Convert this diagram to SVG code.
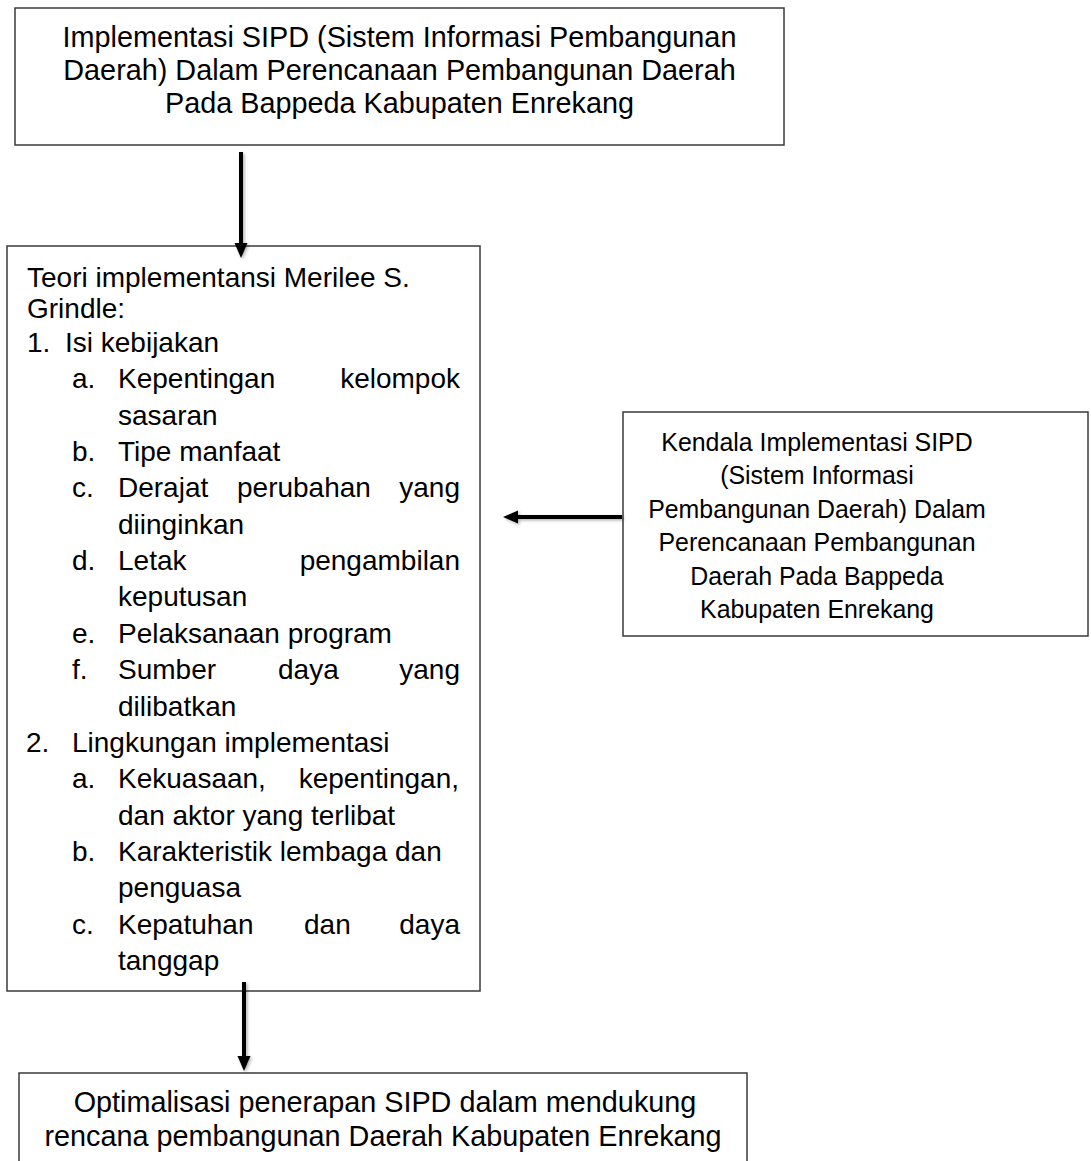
<svg xmlns="http://www.w3.org/2000/svg" width="1091" height="1161" viewBox="0 0 1091 1161">
<style>
.box{fill:#fff;stroke:#3a3a3a;stroke-width:1.5}
.t{font-family:"Liberation Sans",Arial,sans-serif;fill:#000}
.c{text-anchor:middle}
.e{text-anchor:end}
.conn{stroke:#000;stroke-width:4;fill:none;marker-end:url(#ah)}
</style>
<defs>
<marker id="ah" markerUnits="userSpaceOnUse" markerWidth="16" markerHeight="14" viewBox="0 0 16 14" refX="1" refY="7" orient="auto">
<path d="M0,0.5 L15,7 L0,13.5 Z" fill="#000"/>
</marker>
<filter id="sh" filterUnits="userSpaceOnUse" x="0" y="0" width="1091" height="1161">
<feDropShadow dx="1.5" dy="1.5" stdDeviation="1.5" flood-color="#000" flood-opacity="0.3"/>
</filter>
</defs>
<g id="node-top">
<rect class="box" x="15" y="8" width="769" height="137"/>
<text class="t c" font-size="28.8" x="399.5" y="47">Implementasi SIPD (Sistem Informasi Pembangunan</text>
<text class="t c" font-size="28.8" x="399.5" y="80">Daerah) Dalam Perencanaan Pembangunan Daerah</text>
<text class="t c" font-size="28.8" x="399.5" y="113">Pada Bappeda Kabupaten Enrekang</text>
</g>
<g id="node-theory" font-size="28">
<rect class="box" x="7" y="246" width="473" height="745"/>
<text class="t" x="27" y="287">Teori implementansi Merilee S.</text>
<text class="t" x="27" y="318">Grindle:</text>
<text class="t" x="27" y="352">1.</text><text class="t" x="65" y="352">Isi kebijakan</text>
<text class="t" x="72" y="388.4">a.</text><text class="t" x="118" y="388.4">Kepentingan</text><text class="t e" x="460" y="388.4">kelompok</text>
<text class="t" x="118" y="424.7">sasaran</text>
<text class="t" x="72" y="461">b.</text><text class="t" x="118" y="461">Tipe manfaat</text>
<text class="t" x="72" y="497.4">c.</text><text class="t" x="118" y="497.4">Derajat</text><text class="t" x="237" y="497.4">perubahan</text><text class="t e" x="460" y="497.4">yang</text>
<text class="t" x="118" y="533.7">diinginkan</text>
<text class="t" x="72" y="570">d.</text><text class="t" x="118" y="570">Letak</text><text class="t e" x="460" y="570">pengambilan</text>
<text class="t" x="118" y="606.4">keputusan</text>
<text class="t" x="72" y="642.8">e.</text><text class="t" x="118" y="642.8">Pelaksanaan program</text>
<text class="t" x="72" y="679">f.</text><text class="t" x="118" y="679">Sumber</text><text class="t" x="278" y="679">daya</text><text class="t e" x="460" y="679">yang</text>
<text class="t" x="118" y="715.5">dilibatkan</text>
<text class="t" x="26" y="751.8">2.</text><text class="t" x="72" y="751.8">Lingkungan implementasi</text>
<text class="t" x="72" y="788.2">a.</text><text class="t" x="118" y="788.2">Kekuasaan,</text><text class="t e" x="459" y="788.2">kepentingan,</text>
<text class="t" x="118" y="824.5">dan aktor yang terlibat</text>
<text class="t" x="72" y="860.8">b.</text><text class="t" x="118" y="860.8">Karakteristik lembaga dan</text>
<text class="t" x="118" y="897.2">penguasa</text>
<text class="t" x="72" y="933.6">c.</text><text class="t" x="118" y="933.6">Kepatuhan</text><text class="t" x="304" y="933.6">dan</text><text class="t e" x="460" y="933.6">daya</text>
<text class="t" x="118" y="970">tanggap</text>
</g>
<g id="node-kendala">
<rect class="box" x="623" y="412" width="465" height="224"/>
<g transform="translate(817 0) scale(0.94 1)" font-size="26.5">
<text class="t c" x="0" y="451">Kendala Implementasi SIPD</text>
<text class="t c" x="0" y="484.5">(Sistem Informasi</text>
<text class="t c" x="0" y="518">Pembangunan Daerah) Dalam</text>
<text class="t c" x="0" y="551.5">Perencanaan Pembangunan</text>
<text class="t c" x="0" y="585">Daerah Pada Bappeda</text>
<text class="t c" x="0" y="618.5">Kabupaten Enrekang</text>
</g>
</g>
<g id="node-optimalisasi">
<rect class="box" x="19" y="1073" width="728" height="100"/>
<text class="t c" font-size="28.8" x="385" y="1111.5">Optimalisasi penerapan SIPD dalam mendukung</text>
<text class="t c" font-size="28.8" x="383" y="1145.5">rencana pembangunan Daerah Kabupaten Enrekang</text>
</g>
<g id="connectors" filter="url(#sh)">
<line class="conn" x1="241" y1="152" x2="241" y2="244"/>
<line class="conn" x1="622" y1="517" x2="517" y2="517"/>
<line class="conn" x1="244" y1="982" x2="244" y2="1057"/>
</g>
</svg>
